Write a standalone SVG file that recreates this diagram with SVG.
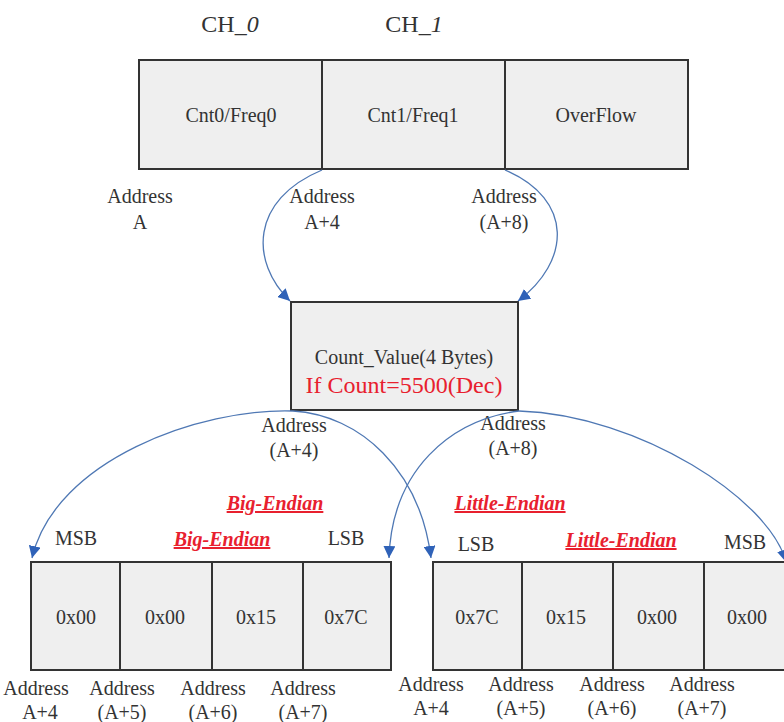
<svg xmlns="http://www.w3.org/2000/svg" width="784" height="722" viewBox="0 0 784 722" font-family="'Liberation Serif', 'DejaVu Serif', serif">
<defs>
<marker id="arr" markerUnits="userSpaceOnUse" markerWidth="14" markerHeight="12" refX="12" refY="6" orient="auto">
<path d="M0,0 L12,6 L0,12 z" fill="#2f62b8"/>
</marker>
<style>
text{font-family:'Liberation Serif','DejaVu Serif',serif;fill:#333;text-anchor:middle}
.t{font-size:20px}
.ch{font-size:24px}
.cell{fill:#efefef;stroke:#333;stroke-width:2}
.div{stroke:#333;stroke-width:2}
.red{fill:#e8202e}
.end{font-size:20px;font-weight:bold;font-style:italic;fill:#e8202e;text-decoration:underline}
.c{fill:none;stroke:#4f78b4;stroke-width:1.3;marker-end:url(#arr)}
</style>
</defs>
<rect width="784" height="722" fill="#fff"/>

<g id="labels-ch">
<text class="ch" x="230" y="32">CH_<tspan font-style="italic">0</tspan></text>
<text class="ch" x="414" y="32">CH_<tspan font-style="italic">1</tspan></text>
</g>

<g id="top-registers">
<rect class="cell" x="139" y="60" width="549" height="109"/>
<line class="div" x1="322" y1="60" x2="322" y2="169"/>
<line class="div" x1="505" y1="60" x2="505" y2="169"/>
<text class="t" x="231" y="122">Cnt0/Freq0</text>
<text class="t" x="413" y="122">Cnt1/Freq1</text>
<text class="t" x="596" y="122">OverFlow</text>
</g>

<g id="top-addresses">
<text class="t" x="140" y="203">Address</text><text class="t" x="140" y="229">A</text>
<text class="t" x="322" y="203">Address</text><text class="t" x="322" y="229">A+4</text>
<text class="t" x="504" y="203">Address</text><text class="t" x="504" y="229">(A+8)</text>
</g>

<g id="count-value">
<rect class="cell" x="291" y="302" width="227" height="108"/>
<text class="t" x="404" y="364">Count_Value(4 Bytes)</text>
<text class="red" x="404" y="393" font-size="24">If Count=5500(Dec)</text>
</g>

<g id="mid-addresses">
<text class="t" x="294" y="432">Address</text><text class="t" x="294" y="457">(A+4)</text>
<text class="t" x="513" y="430">Address</text><text class="t" x="513" y="455">(A+8)</text>
</g>

<g id="big-endian">
<text class="end" x="275" y="510">Big-Endian</text>
<text class="end" x="222" y="546">Big-Endian</text>
<text class="t" x="76" y="545">MSB</text>
<text class="t" x="346" y="545">LSB</text>
<rect class="cell" x="31" y="562" width="360" height="108"/>
<line class="div" x1="120" y1="562" x2="120" y2="670"/>
<line class="div" x1="212" y1="562" x2="212" y2="670"/>
<line class="div" x1="303" y1="562" x2="303" y2="670"/>
<text class="t" x="76" y="624">0x00</text>
<text class="t" x="165" y="624">0x00</text>
<text class="t" x="256" y="624">0x15</text>
<text class="t" x="346" y="624">0x7C</text>
<text class="t" x="36" y="695">Address</text><text class="t" x="40" y="719">A+4</text>
<text class="t" x="122" y="695">Address</text><text class="t" x="122" y="719">(A+5)</text>
<text class="t" x="213" y="695">Address</text><text class="t" x="213" y="719">(A+6)</text>
<text class="t" x="303" y="695">Address</text><text class="t" x="303" y="719">(A+7)</text>
</g>

<g id="little-endian">
<text class="end" x="510" y="510">Little-Endian</text>
<text class="end" x="621" y="547">Little-Endian</text>
<text class="t" x="476" y="551">LSB</text>
<text class="t" x="745" y="549">MSB</text>
<rect class="cell" x="433" y="562" width="360" height="108"/>
<line class="div" x1="522" y1="562" x2="522" y2="670"/>
<line class="div" x1="613" y1="562" x2="613" y2="670"/>
<line class="div" x1="704" y1="562" x2="704" y2="670"/>
<text class="t" x="477" y="624">0x7C</text>
<text class="t" x="566" y="624">0x15</text>
<text class="t" x="657" y="624">0x00</text>
<text class="t" x="747" y="624">0x00</text>
<text class="t" x="431" y="691">Address</text><text class="t" x="431" y="715">A+4</text>
<text class="t" x="521" y="691">Address</text><text class="t" x="521" y="715">(A+5)</text>
<text class="t" x="612" y="691">Address</text><text class="t" x="612" y="715">(A+6)</text>
<text class="t" x="702" y="691">Address</text><text class="t" x="702" y="715">(A+7)</text>
</g>

<g id="connectors">
<path class="c" d="M322,170 C250,200 250,262 290,301"/>
<path class="c" d="M505,170 C575,200 570,262 518,301"/>
<path class="c" d="M293,411 C200,408 55,460 32,558"/>
<path class="c" d="M293,411 C360,415 420,470 431,558"/>
<path class="c" d="M519,411 C450,420 392,470 389,558"/>
<path class="c" d="M519,411 C640,415 770,500 786,562"/>
</g>
</svg>
